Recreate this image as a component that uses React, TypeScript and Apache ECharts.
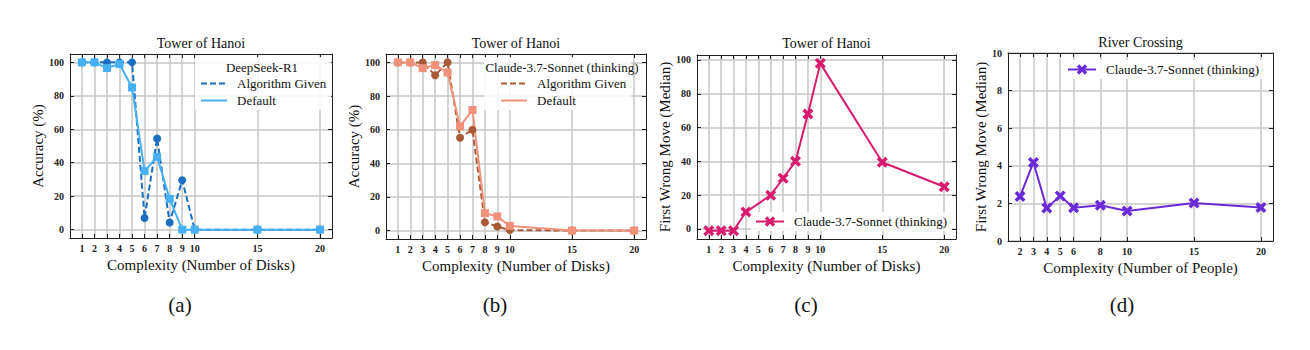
import React, { useEffect, useRef } from "react";
import * as echarts from "echarts";

// ---------- data ----------
const hanoiTicks = [1, 2, 3, 4, 5, 6, 7, 8, 9, 10, 15, 20];
const riverTicks = [2, 3, 4, 5, 6, 8, 10, 15, 20];
const accuracyTicks = [0, 20, 40, 60, 80, 100];
const moveTicks = [0, 20, 40, 60, 80, 100];
const riverMoveTicks = [0, 2, 4, 6, 8, 10];

const hanoiDisks = [1, 2, 3, 4, 5, 6, 7, 8, 9, 10, 15, 20];
const deepseekAlgorithmGiven = [100, 100, 100, 100, 100, 7, 54.5, 4.3, 29.5, 0, 0, 0];
const deepseekDefault = [100, 100, 96.6, 99, 85, 35, 43.5, 18.4, 0, 0, 0, 0];
const claudeAlgorithmGiven = [100, 100, 100, 92.4, 100, 55.2, 60, 5, 2.4, 0.3, 0, 0];
const claudeDefault = [100, 100, 96.6, 98.4, 94, 62, 71.7, 10.4, 8.4, 2.8, 0, 0];

const hanoiMoveDisks = [1, 2, 3, 4, 6, 7, 8, 9, 10, 15, 20];
const hanoiFirstWrongMove = [-1, -1, -1, 10, 20, 30, 40, 68, 98, 39.5, 25];

const riverPeople = [2, 3, 4, 5, 6, 8, 10, 15, 20];
const riverFirstWrongMove = [2.37, 4.18, 1.75, 2.4, 1.77, 1.9, 1.6, 2.02, 1.78];

// ---------- style ----------
const FONT = "Liberation Serif";
const BLUE_DARK = "#1c6fc0";
const BLUE_LIGHT = "#47b0f2";
const BROWN = "#a85a36";
const SALMON = "#f0917a";
const PINK = "#d81b6e";
const PURPLE = "#6a2bd6";
const GRIDC = "#c6c6c6";
const AXISC = "#222";
const XMARK =
  "path://M-1,-0.55 L-0.55,-1 L0,-0.45 L0.55,-1 L1,-0.55 L0.45,0 L1,0.55 L0.55,1 L0,0.45 L-0.55,1 L-1,0.55 L-0.45,0 Z";

const pair = (xs: number[], ys: number[]) => xs.map((x, i) => [x, ys[i]]);

function makeX(gi: number, ticks: number[], min: number, max: number, name: string) {
  return [
    {
      type: "value",
      gridIndex: gi,
      position: "bottom",
      min,
      max,
      name,
      nameLocation: "middle",
      nameGap: 18,
      nameTextStyle: { fontFamily: FONT, fontSize: 15, color: "#111" },
      axisLine: { show: true, onZero: false, lineStyle: { color: AXISC, width: 1 } },
      axisTick: { show: true, inside: true, length: 4, customValues: ticks, lineStyle: { color: AXISC } },
      axisLabel: { customValues: ticks, fontFamily: FONT, fontSize: 10, fontWeight: "bold", color: AXISC, margin: 5 },
      splitLine: { show: true, lineStyle: { color: GRIDC, width: 1.5 } },
    },
    {
      type: "value",
      gridIndex: gi,
      position: "top",
      min,
      max,
      axisLine: { show: true, onZero: false, lineStyle: { color: AXISC, width: 1 } },
      axisTick: { show: true, inside: true, length: 4, customValues: ticks, lineStyle: { color: AXISC } },
      axisLabel: { show: false },
      splitLine: { show: false },
    },
  ];
}

function makeY(gi: number, ticks: number[], min: number, max: number, name: string, gap: number) {
  return [
    {
      type: "value",
      gridIndex: gi,
      position: "left",
      min,
      max,
      name,
      nameLocation: "middle",
      nameGap: gap,
      nameTextStyle: { fontFamily: FONT, fontSize: 15, color: "#111" },
      axisLine: { show: true, onZero: false, lineStyle: { color: AXISC, width: 1 } },
      axisTick: { show: true, inside: true, length: 4, customValues: ticks, lineStyle: { color: AXISC } },
      axisLabel: { customValues: ticks, fontFamily: FONT, fontSize: 10, fontWeight: "bold", color: AXISC, margin: 6 },
      splitLine: { show: true, lineStyle: { color: GRIDC, width: 1.5 } },
    },
    {
      type: "value",
      gridIndex: gi,
      position: "right",
      min,
      max,
      axisLine: { show: true, onZero: false, lineStyle: { color: AXISC, width: 1 } },
      axisTick: { show: true, inside: true, length: 4, customValues: ticks, lineStyle: { color: AXISC } },
      axisLabel: { show: false },
      splitLine: { show: false },
    },
  ];
}

const legendText = { fontFamily: FONT, fontSize: 13, color: "#111", padding: [0, 0, 0, 5] };

export default function App() {
  const ref = useRef<HTMLDivElement>(null);
  useEffect(() => {
    if (!ref.current) return;
    const chart = echarts.init(ref.current, undefined, { renderer: "svg" });
    const grids = [
      { left: 70, top: 54, width: 262, height: 184 },
      { left: 386, top: 54, width: 260, height: 185 },
      { left: 697, top: 55, width: 259, height: 184 },
      { left: 1008, top: 53, width: 265, height: 188 },
    ];
    const centers = grids.map((g) => g.left + g.width / 2);
    const option: any = {
      animation: false,
      backgroundColor: "#fff",
      grid: grids.map((g) => ({ ...g, containLabel: false, show: false })),
      title: [
        ...["Tower of Hanoi", "Tower of Hanoi", "Tower of Hanoi", "River Crossing"].map((t, i) => ({
          text: t,
          left: centers[i],
          top: i === 3 ? 35 : 36,
          textAlign: "center",
          padding: 0,
          textStyle: { fontFamily: FONT, fontSize: 14, fontWeight: "normal", color: "#111" },
        })),
        ...[
          ["(a)", 180],
          ["(b)", 495],
          ["(c)", 806],
          ["(d)", 1122],
        ].map(([t, x]) => ({
          text: t,
          left: x,
          top: 294,
          textAlign: "center",
          padding: 0,
          textStyle: { fontFamily: FONT, fontSize: 21, fontWeight: "normal", color: "#111" },
        })),
      ],
      xAxis: [
        ...makeX(0, hanoiTicks, 0.05, 20.95, "Complexity (Number of Disks)"),
        ...makeX(1, hanoiTicks, 0.05, 20.95, "Complexity (Number of Disks)"),
        ...makeX(2, hanoiTicks, 0.05, 20.95, "Complexity (Number of Disks)"),
        ...makeX(3, riverTicks, 1.1, 20.9, "Complexity (Number of People)"),
      ],
      yAxis: [
        ...makeY(0, accuracyTicks, -5, 105, "Accuracy (%)", 21),
        ...makeY(1, accuracyTicks, -5, 105, "Accuracy (%)", 22),
        ...makeY(2, moveTicks, -5.95, 102.95, "First Wrong Move (Median)", 24),
        ...makeY(3, riverMoveTicks, 0, 10, "First Wrong Move (Median)", 18),
      ],
      legend: [
        {
          orient: "vertical",
          left: 195,
          top: 57,
          padding: [20, 5, 3, 5],
          backgroundColor: "rgba(255,255,255,0.85)",
          itemWidth: 26,
          itemHeight: 12,
          itemGap: 4,
          data: ["a:Algorithm Given", "a:Default"],
          formatter: (n: string) => n.slice(2),
          textStyle: legendText,
          itemStyle: { opacity: 0 },
          lineStyle: { width: 2 },
          selectedMode: false,
        },
        {
          orient: "vertical",
          left: 484,
          top: 57,
          padding: [20, 5, 3, 16],
          backgroundColor: "rgba(255,255,255,0.85)",
          itemWidth: 26,
          itemHeight: 12,
          itemGap: 4,
          data: ["b:Algorithm Given", "b:Default"],
          formatter: (n: string) => n.slice(2),
          textStyle: legendText,
          itemStyle: { opacity: 0 },
          lineStyle: { width: 2 },
          selectedMode: false,
        },
        {
          orient: "vertical",
          left: 751,
          top: 212,
          padding: [3, 5, 3, 4],
          backgroundColor: "rgba(255,255,255,0.85)",
          itemWidth: 28,
          itemHeight: 13,
          data: ["c:Claude-3.7-Sonnet (thinking)"],
          formatter: (n: string) => n.slice(2),
          textStyle: legendText,
          lineStyle: { width: 2 },
          selectedMode: false,
        },
        {
          orient: "vertical",
          left: 1063,
          top: 60,
          padding: [3, 5, 3, 4],
          backgroundColor: "rgba(255,255,255,0.85)",
          itemWidth: 28,
          itemHeight: 13,
          data: ["d:Claude-3.7-Sonnet (thinking)"],
          formatter: (n: string) => n.slice(2),
          textStyle: legendText,
          lineStyle: { width: 2 },
          selectedMode: false,
        },
      ],
      graphic: [
        {
          type: "text",
          x: 262,
          y: 67,
          z: 100,
          style: { text: "DeepSeek-R1", fontFamily: FONT, fontSize: 13, fill: "#111", align: "center", verticalAlign: "middle" },
        },
        {
          type: "text",
          x: 562,
          y: 67,
          z: 100,
          style: {
            text: "Claude-3.7-Sonnet (thinking)",
            fontFamily: FONT,
            fontSize: 13,
            fill: "#111",
            align: "center",
            verticalAlign: "middle",
          },
        },
      ],
      series: [
        {
          name: "a:Algorithm Given",
          type: "line",
          xAxisIndex: 0,
          yAxisIndex: 0,
          data: pair(hanoiDisks, deepseekAlgorithmGiven),
          symbol: "circle",
          symbolSize: 8,
          lineStyle: { color: BLUE_DARK, width: 2, type: [6, 3] },
          itemStyle: { color: BLUE_DARK },
        },
        {
          name: "a:Default",
          type: "line",
          xAxisIndex: 0,
          yAxisIndex: 0,
          data: pair(hanoiDisks, deepseekDefault),
          symbol: "rect",
          symbolSize: 8,
          lineStyle: { color: BLUE_LIGHT, width: 2 },
          itemStyle: { color: BLUE_LIGHT },
        },
        {
          name: "b:Algorithm Given",
          type: "line",
          xAxisIndex: 2,
          yAxisIndex: 2,
          data: pair(hanoiDisks, claudeAlgorithmGiven),
          symbol: "circle",
          symbolSize: 8,
          lineStyle: { color: BROWN, width: 2, type: [6, 3] },
          itemStyle: { color: BROWN },
        },
        {
          name: "b:Default",
          type: "line",
          xAxisIndex: 2,
          yAxisIndex: 2,
          data: pair(hanoiDisks, claudeDefault),
          symbol: "rect",
          symbolSize: 8,
          lineStyle: { color: SALMON, width: 2 },
          itemStyle: { color: SALMON },
        },
        {
          name: "c:Claude-3.7-Sonnet (thinking)",
          type: "line",
          xAxisIndex: 4,
          yAxisIndex: 4,
          data: pair(hanoiMoveDisks, hanoiFirstWrongMove),
          symbol: XMARK,
          symbolSize: 11,
          lineStyle: { color: PINK, width: 2 },
          itemStyle: { color: PINK },
        },
        {
          name: "d:Claude-3.7-Sonnet (thinking)",
          type: "line",
          xAxisIndex: 6,
          yAxisIndex: 6,
          data: pair(riverPeople, riverFirstWrongMove),
          symbol: XMARK,
          symbolSize: 11,
          lineStyle: { color: PURPLE, width: 2 },
          itemStyle: { color: PURPLE },
        },
      ],
    };
    chart.setOption(option);
    return () => chart.dispose();
  }, []);
  return (
    <div
      ref={ref}
      style={{ position: "absolute", left: 0, top: 0, width: 1310, height: 350, background: "#fff" }}
    />
  );
}
